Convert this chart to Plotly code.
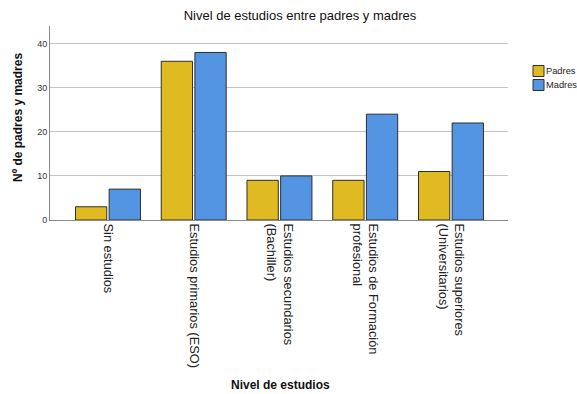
import plotly.graph_objects as go

# Education level categories (tick labels, line-broken as on the axis)
categorias = [
    "Sin estudios",
    "Estudios primarios (ESO)",
    "Estudios secundarios<br>(Bachiller)",
    "Estudios de Formación<br>profesional",
    "Estudios superiores<br>(Universitarios)",
]
padres = [3, 36, 9, 9, 11]
madres = [7, 38, 10, 24, 22]

series_names = ["Padres", "Madres"]
color_padres = "#E0BA21"
color_madres = "#5495E3"
edge = "#2E2E2E"
font_family = "Liberation Sans, Arial, sans-serif"

fig = go.Figure()
fig.add_trace(go.Bar(x=categorias, y=padres, name=series_names[0],
                     marker=dict(color=color_padres, line=dict(color=edge, width=1)),
                     showlegend=False))
fig.add_trace(go.Bar(x=categorias, y=madres, name=series_names[1],
                     marker=dict(color=color_madres, line=dict(color=edge, width=1)),
                     showlegend=False))

L, R, T, B = 50, 69, 26, 174
W, H = 577, 394
pw, ph = W - L - R, H - T - B

def px_x(px):
    return (px - L) / pw

def px_y(py):
    return (H - B - py) / ph

# Hand-built legend: swatch squares followed closely by the labels
legend_rows = [(series_names[0], color_padres, 71), (series_names[1], color_madres, 85)]
for name, col, yc in legend_rows:
    fig.add_shape(type="rect", xref="paper", yref="paper",
                  x0=px_x(533), x1=px_x(544), y0=px_y(yc + 5.5), y1=px_y(yc - 5.5),
                  fillcolor=col, line=dict(color=edge, width=1))
    fig.add_annotation(text=name, xref="paper", yref="paper",
                       x=px_x(544), y=px_y(yc), xanchor="left", yanchor="middle",
                       showarrow=False, font=dict(size=9.3, color="#222", family=font_family))

# Axis titles
fig.add_annotation(text="<b>Nivel de estudios</b>", xref="paper", yref="paper",
                   x=px_x(280), y=px_y(385), xanchor="center", yanchor="middle",
                   showarrow=False, font=dict(size=12, color="#111", family=font_family))
fig.add_annotation(text="<b>Nº de padres y madres</b>", xref="paper", yref="paper",
                   x=px_x(18), y=px_y(118), xanchor="center", yanchor="middle",
                   textangle=-90, showarrow=False,
                   font=dict(size=12, color="#111", family=font_family))

fig.update_layout(
    width=W, height=H,
    margin=dict(l=L, r=R, t=T, b=B, autoexpand=False),
    paper_bgcolor="white", plot_bgcolor="white",
    barmode="group", bargap=0.215, bargroupgap=0.07,
    font=dict(family=font_family, color="#222"),
    title=dict(text="Nivel de estudios entre padres y madres",
               x=300 / W, xref="container", xanchor="center",
               y=1 - 15 / H, yref="container", yanchor="middle",
               font=dict(size=13, color="#111", family=font_family)),
    xaxis=dict(type="category", range=[-0.676, 4.665], tickangle=90,
               showline=True, linecolor="#8a8a8a", linewidth=1,
               ticks="", showgrid=False, zeroline=False,
               tickfont=dict(size=12.8, color="#222")),
    yaxis=dict(range=[0, 44], dtick=10, tick0=0,
               showline=True, linecolor="#8a8a8a", linewidth=1,
               showgrid=True, gridcolor="#c4c4c4", gridwidth=1,
               zeroline=False, ticks="",
               tickfont=dict(size=9, color="#333")),
)

fig.write_html("out.html")
